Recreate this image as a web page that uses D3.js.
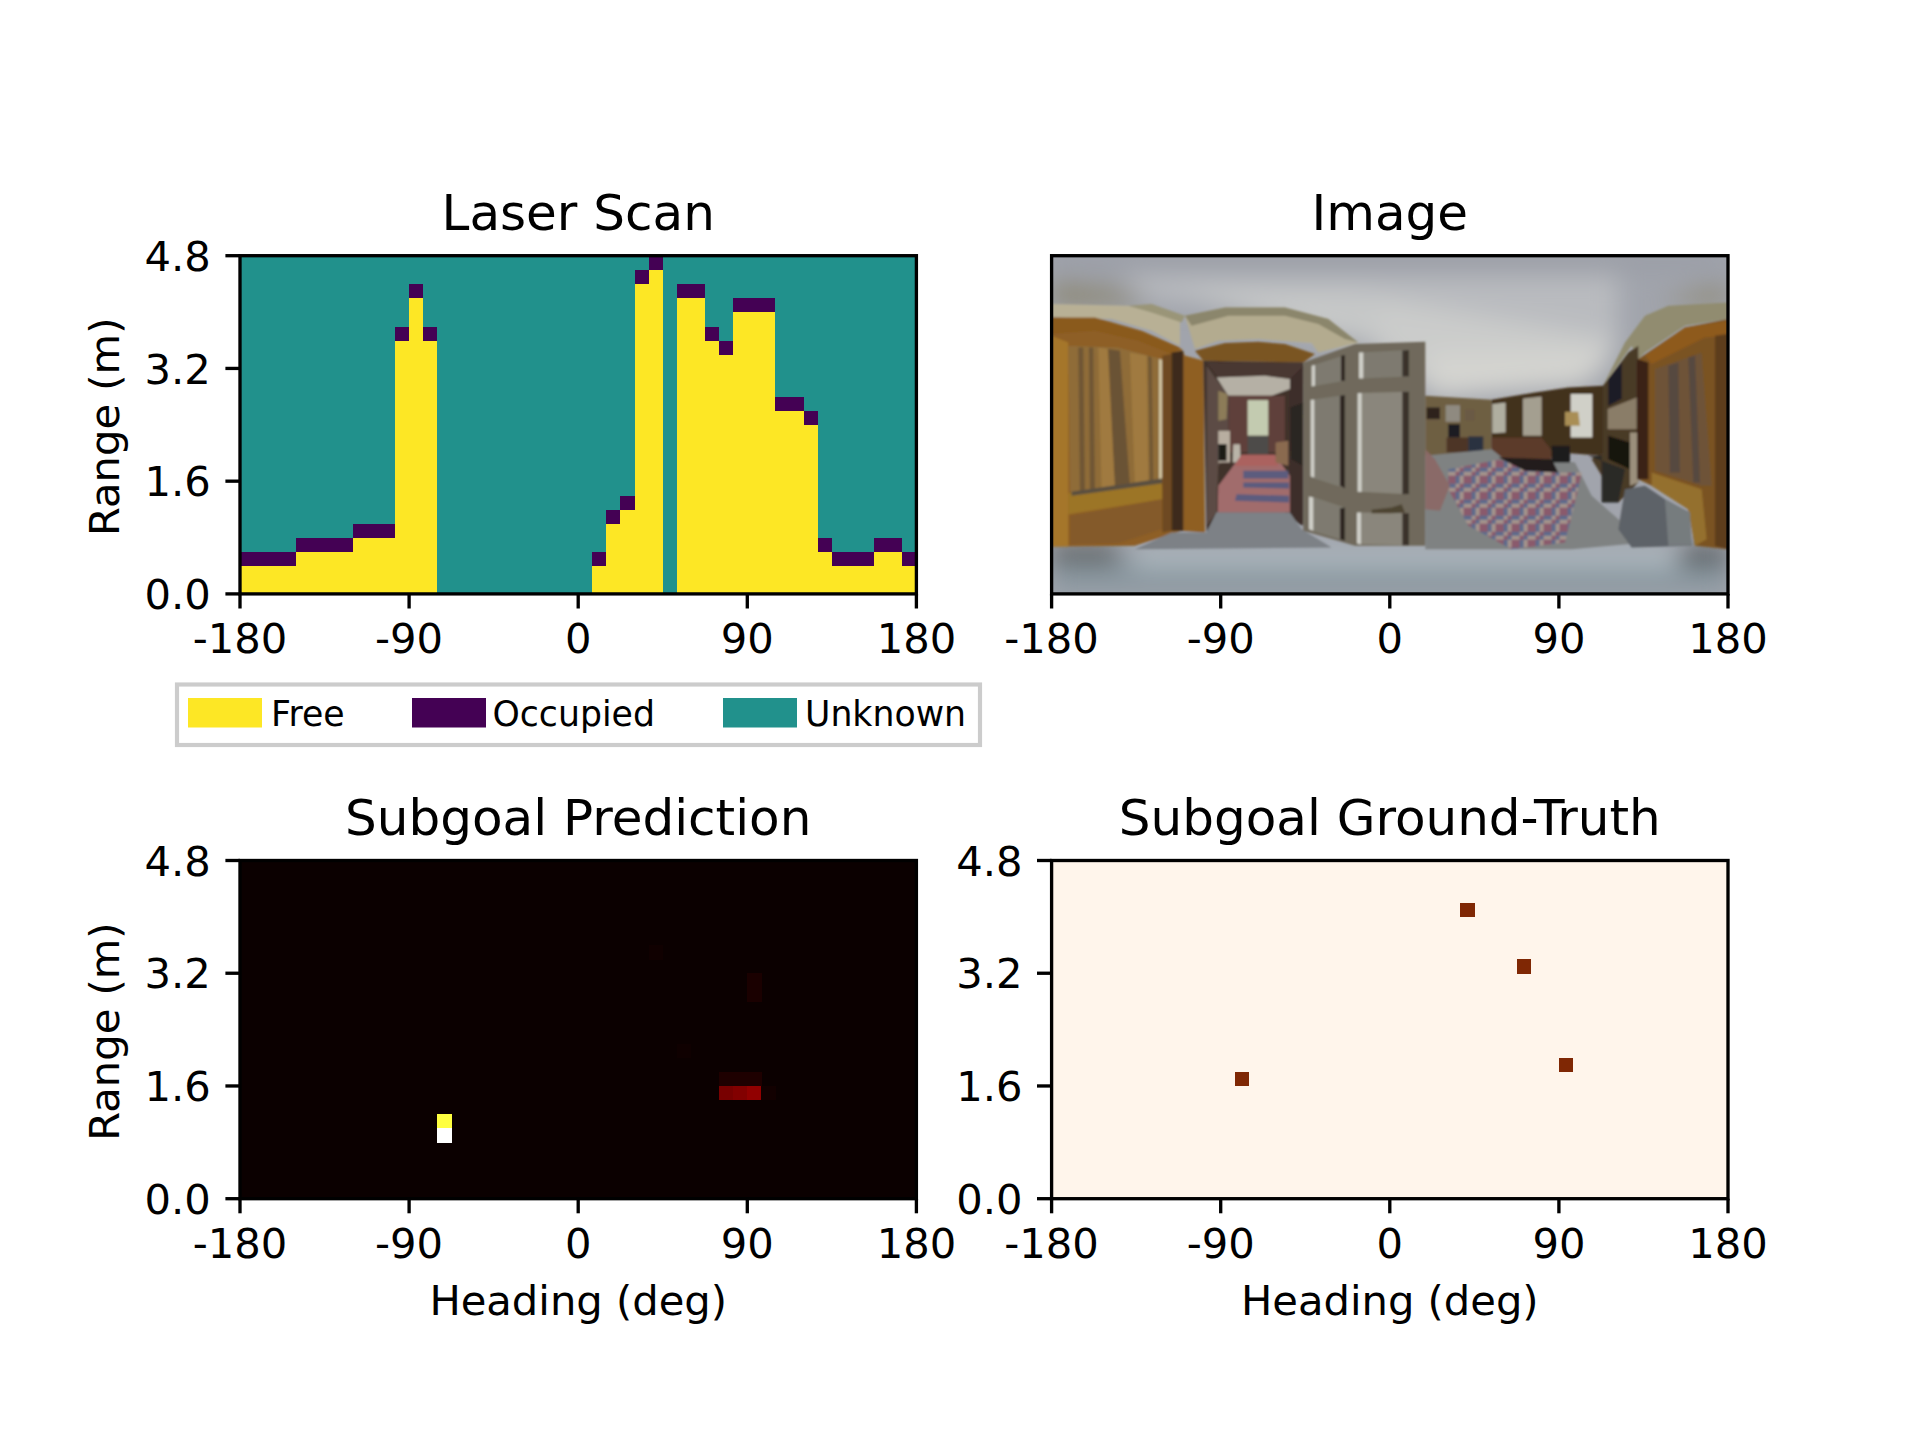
<!DOCTYPE html>
<html><head><meta charset="utf-8">
<script src="https://cdn.jsdelivr.net/npm/d3@7/dist/d3.min.js"></script>
<style>html,body{margin:0;background:#fff}svg{display:block}text{font-family:"DejaVu Sans";fill:#000}</style>
</head><body><svg id="c" width="1920" height="1440"></svg>
<script>
// ---------- data ----------
const panelTitles = ["Laser Scan", "Image", "Subgoal Prediction", "Subgoal Ground-Truth"];
const headingTicks = [-180, -90, 0, 90, 180];
const rangeTicks = [0, 1.6, 3.2, 4.8];
const headingLabel = "Heading (deg)";
const rangeLabel = "Range (m)";
const columnCount = 48, rowCount = 24;
// Occupied range-bin per heading column (null: the whole column is unknown)
const scanOccupied = [2,2,2,2,3,3,3,3,4,4,4,18,21,18,
  null,null,null,null,null,null,null,null,null,null,null,
  2,5,6,22,23,null,21,21,18,17,20,20,20,13,13,12,3,2,2,2,3,3,2];
const legendNames = ["Free", "Occupied", "Unknown"];
const legendValues = [1, 0, 0.5];
// Predicted subgoal heat: column, bin, value
const predCols = [14,14,34,35,36,34,35,36,36,36,37,29,31];
const predBins = [5,4,7,7,7,8,8,8,14,15,7,17,10];
const predVals = [0.81,1,0.163,0.178,0.2,0.028,0.028,0.028,0.022,0.022,0.01,0.008,0.006];
// Ground-truth subgoals: column, bin
const truthCols = [13,29,33,36];
const truthBins = [8,20,16,9];
// Panorama drawn as soft colour patches, in source-image coordinates (2029 x 1014)
const photoBase = "#a1a4ac";
const photoGlows = [
 ["#989ba4","0,0 2029,0 2029,40 0,40"],
 ["#b9bbbf","200,60 1700,60 1700,250 300,130"],
 ["#cbcccb","450,135 1000,130 1700,250 1650,360 1150,425 950,265"],
 ["#d4d4d0","1130,290 1650,290 1600,390 1150,425"],
 ["#c6c8c8","380,110 950,110 1000,250 920,255 830,180 520,145"],
 ["#8b8672","0,80 200,100 300,145 0,150"],
 ["#8f8a78","1820,140 1950,100 2029,90 2029,150"],
 ["#8b98a0","0,900 2029,900 2029,1014 0,1014"],
 ["#b0bcc2","250,885 1900,885 1900,930 250,930"],
 ["#484a44","0,875 200,875 200,920 0,920"],
 ["#3d4040","1880,880 2029,880 2029,925 1880,925"]
];
const photoPatches = [
 // left wall
 ["#b8b095","0,145 230,150 385,190 385,270 300,225 180,190 0,185"],
 ["#9a9578","230,150 300,145 400,180 390,200 300,170"],
 ["#b3ab8f","400,180 520,155 700,155 830,190 920,260 800,290 780,262 620,250 500,255 430,280"],
 ["#8b866c","400,180 520,155 700,155 830,190 920,260 880,250 800,205 700,180 530,180 420,210"],
 ["#8e5f25","0,185 130,190 280,230 390,280 400,300 455,315 460,830 390,825 250,870 0,872"],
 ["#8a5a1e","0,185 130,185 270,225 385,275 360,295 260,255 130,225 0,235"],
 ["#7a5522","430,285 520,262 620,258 700,265 790,295 755,320 455,315"],
 ["#a5762a","0,240 50,260 50,872 0,872"],
 ["#8f6c38","50,270 200,275 330,310 325,670 180,700 55,710"],
 ["#6f5635","80,275 95,275 100,705 85,708"],
 ["#6f5635","112,275 125,275 130,700 115,702"],
 ["#6b5234","170,280 205,285 235,690 190,698"],
 ["#a07a3f","140,275 168,280 190,700 150,705"],
 ["#a07a3f","235,290 285,300 290,680 250,690"],
 ["#6f5635","290,300 300,305 305,675 295,678"],
 ["#cfc2a0","322,310 332,312 332,668 322,670"],
 ["#9c7426","50,712 330,672 335,730 50,775"],
 ["#5a5040","60,708 330,668 332,682 60,720"],
 ["#845a2a","55,780 330,730 330,820 200,862 55,866"],
 ["#6e4a22","332,300 360,295 360,825 332,830"],
 ["#3d2c1a","360,290 395,285 395,825 360,825"],
 ["#8f5f24","400,300 455,315 458,825 400,820"],
 // hallway
 ["#3f3029","455,315 755,320 750,810 700,770 495,770 465,830"],
 ["#4a3833","465,320 750,320 750,370 640,360 500,365"],
 ["#b5b0a5","495,365 640,360 715,370 715,400 660,420 530,420"],
 ["#5e3f3a","530,420 700,420 700,590 530,590"],
 ["#5b4c45","465,330 530,420 530,600 500,630 495,770 465,810"],
 ["#c3cbb0","588,433 650,433 650,540 588,540"],
 ["#4d4c48","588,540 650,540 650,595 588,595"],
 ["#8c7c58","500,405 528,415 525,490 500,495"],
 ["#b8aea0","500,525 535,525 535,620 500,620"],
 ["#1d1a18","500,565 525,565 525,615 500,615"],
 ["#b9b4a8","545,565 565,565 568,620 543,620"],
 ["#a16c6c","570,597 670,597 715,660 715,770 498,770 500,690"],
 ["#ab625e","570,597 670,597 680,630 550,630"],
 ["#5c5c7e","575,645 710,645 710,668 575,668"],
 ["#5c5c7e","575,680 712,680 712,698 575,695"],
 ["#5c5c7e","555,715 712,720 712,740 550,735"],
 ["#7d8186","465,830 495,770 715,770 750,820 840,875 250,880 360,830"],
 ["#8a6a50","672,560 710,555 710,630 672,620"],
 ["#3e2f2a","715,370 755,330 755,810 715,770"],
 ["#2c2622","715,455 755,440 752,630 718,610"],
 // door
 ["#70695c","755,320 910,265 1121,258 1121,870 910,870 755,825"],
 ["#7e7a70","780,330 880,298 880,375 780,392"],
 ["#7e7a70","780,432 880,418 880,697 780,665"],
 ["#7e7a70","780,722 880,755 880,855 780,825"],
 ["#7e7a70","925,290 1072,283 1072,362 925,368"],
 ["#8a867b","925,412 1070,408 1070,715 925,708"],
 ["#8a867b","925,770 1070,772 1070,868 925,865"],
 ["#2e2823","868,300 880,298 880,375 868,376"],
 ["#2e2823","865,420 880,418 880,697 865,690"],
 ["#2e2823","865,757 880,755 880,855 865,850"],
 ["#3a332c","1052,284 1072,283 1072,362 1052,362"],
 ["#3a332c","1052,408 1072,408 1072,715 1052,715"],
 ["#3a332c","1052,772 1072,772 1072,868 1052,868"],
 ["#cfcfc8","780,330 790,328 790,390 780,392"],
 ["#cfcfc8","777,432 788,432 788,665 777,662"],
 ["#cfcfc8","772,722 785,725 785,825 772,820"],
 ["#cfcfc8","922,290 935,290 935,368 922,368"],
 ["#cfcfc8","918,412 930,412 930,708 918,708"],
 ["#cfcfc8","916,770 928,770 928,865 916,863"],
 ["#4e4432","960,762 1020,755 1050,745 1060,770 1020,772 960,772"],
 // room, back wall
 ["#6e5e42","1121,420 1320,432 1320,590 1121,600"],
 ["#2e241c","1125,455 1165,455 1165,490 1125,490"],
 ["#8f8a80","1182,448 1225,448 1225,498 1182,498"],
 ["#6a5a45","1240,462 1268,462 1268,494 1240,494"],
 ["#4e3626","1185,545 1250,545 1250,590 1185,590"],
 ["#1d1d20","1190,505 1225,505 1225,545 1190,545"],
 ["#2c3040","1250,542 1295,542 1295,590 1250,590"],
 ["#43301f","1320,432 1450,410 1550,395 1654,390 1654,600 1320,575"],
 ["#b0aea0","1322,445 1362,440 1362,530 1322,532"],
 ["#a49f90","1414,428 1470,422 1470,540 1414,540"],
 ["#d0d0c8","1557,415 1622,415 1622,545 1557,545"],
 ["#a98e55","1540,468 1580,468 1585,510 1540,510"],
 ["#7f8282","1121,600 1320,580 1570,620 1620,720 1780,860 1560,880 1121,880"],
 ["#5b3a2a","1320,545 1470,545 1505,590 1495,620 1370,620 1320,580"],
 ["#1f1d1c","1500,570 1555,570 1555,620 1500,620"],
 ["rug","1190,640 1340,612 1500,650 1590,650 1575,720 1540,860 1380,880 1250,810 1190,700"],
 ["#221c1a","1340,605 1500,610 1520,650 1420,645"],
 ["#8a6a68","1121,580 1150,610 1195,690 1165,765 1121,760"],
 // room, right wall
 ["#918c70","1654,390 1720,260 1780,180 1850,150 2029,140 2029,190 1900,210 1780,290 1760,310 1740,270"],
 ["#4a3a28","1654,390 1730,290 1760,270 1760,680 1700,740 1620,610 1654,590"],
 ["#1f1f25","1670,370 1710,320 1710,430 1670,450"],
 ["#8a7d68","1668,460 1755,425 1755,520 1668,520"],
 ["#17130f","1670,540 1735,560 1735,640 1670,610"],
 ["#9b8f7c","1735,530 1760,530 1760,680 1735,690"],
 ["#2c2a28","1610,600 1650,600 1650,740 1700,740 1720,640"],
 ["#7a5224","1760,310 1900,215 2029,190 2029,880 1930,870 1910,760 1800,690 1760,670"],
 ["#8e5a1e","1780,300 1900,215 2029,195 2029,240 1960,245 1800,325"],
 ["#6e5237","1810,340 1950,290 1980,690 1950,690 1810,645"],
 ["#564a40","1850,330 1880,320 1885,650 1855,650"],
 ["#564a40","1910,305 1930,300 1945,680 1925,680"],
 ["#3b2417","1756,310 1790,320 1790,670 1756,670"],
 ["#94702e","1800,650 1950,700 1965,850 1930,870 1910,760 1800,690"],
 ["#5d3d1c","1990,240 2029,235 2029,880 1990,870"],
 ["#5d6268","1720,700 1780,690 1840,730 1910,770 1920,870 1740,875 1700,820"],
 ["#767b7e","1840,730 1915,770 1920,870 1850,870"]
];
const rugColors = ["#8a5a6c","#66708f","#a4948c","#7c4f63","#5d6a8c","#937a82"];

// ---------- layout ----------
const svg = d3.select("#c");
const axW = 676.4, axH = 338.2;
const lefts = [240, 1051.6], tops = [255.7, 860.5];
const hot = d3.scaleLinear().domain([0,0.365079,0.746032,1]).range(["#0b0000","#ff0000","#ffff00","#ffffff"]);

const defs = svg.append("defs");
defs.append("filter").attr("id","soft").attr("x","-5%").attr("y","-5%").attr("width","110%").attr("height","110%")
  .append("feGaussianBlur").attr("stdDeviation",1.3);
defs.append("filter").attr("id","glow").attr("x","-30%").attr("y","-30%").attr("width","160%").attr("height","160%")
  .append("feGaussianBlur").attr("stdDeviation",12);
const rug = defs.append("pattern").attr("id","rugFill").attr("patternUnits","userSpaceOnUse").attr("width",16).attr("height",16);
d3.range(16).forEach(i => rug.append("rect").attr("x",(i%4)*4).attr("y",Math.floor(i/4)*4).attr("width",4).attr("height",4).attr("fill",rugColors[(i*i*3+i)%6]));

function panel(col, row, title, opts) {
  const x0 = lefts[col], y0 = tops[row];
  const g = svg.append("g").attr("transform",`translate(${x0},${y0})`);
  const clipId = `clip${col}${row}`;
  defs.append("clipPath").attr("id",clipId).append("rect").attr("width",axW).attr("height",axH);
  const plot = g.append("g").attr("clip-path",`url(#${clipId})`);
  const x = d3.scaleLinear().domain([-180,180]).range([0,axW]);
  const y = d3.scaleLinear().domain([0,4.8]).range([axH,0]);
  const cx = d3.scaleBand().domain(d3.range(columnCount)).range([0,axW]);
  const cy = d3.scaleBand().domain(d3.range(rowCount)).range([axH,0]);
  opts.draw(plot, cx, cy, x, y);
  const xa = g.append("g").attr("transform",`translate(0,${axH})`)
    .call(d3.axisBottom(x).tickValues(headingTicks).tickSize(14.6).tickPadding(14.6).offset(0).tickFormat(d=>String(d)));
  xa.selectAll("text").attr("font-size",41.67).attr("dy","0.729em").attr("y",29.2);
  xa.select(".domain").remove();
  xa.selectAll("line").attr("stroke-width",3.33).attr("stroke","#000");
  if (opts.yAxis) {
    const ya = g.append("g").call(d3.axisLeft(y).tickValues(rangeTicks).tickSize(14.6).tickPadding(14.6).offset(0).tickFormat(d3.format(".1f")));
    ya.selectAll("text").attr("font-size",41.67).attr("dy","0.365em");
    ya.select(".domain").remove();
    ya.selectAll("line").attr("stroke-width",3.33).attr("stroke","#000");
  }
  g.append("rect").attr("width",axW).attr("height",axH).attr("fill","none").attr("stroke","#000").attr("stroke-width",3.33);
  g.append("text").attr("x",axW/2).attr("y",-26).attr("text-anchor","middle").attr("font-size",50).text(title);
  if (opts.xLabel) g.append("text").attr("x",axW/2).attr("y",axH+116).attr("text-anchor","middle").attr("font-size",41.67).text(headingLabel);
  if (opts.yLabel) g.append("text").attr("transform",`translate(-121,${axH/2+2}) rotate(-90)`).attr("text-anchor","middle").attr("font-size",41.67).text(rangeLabel);
}
function cells(plot, list, cx, cy, color) {
  plot.selectAll(null).data(list).join("rect")
    .attr("x",d=>cx(d.c)).attr("y",d=>cy(d.k)).attr("width",cx.bandwidth()+0.4).attr("height",cy.bandwidth()+0.4)
    .attr("fill",d=>color(d.v)).attr("shape-rendering","crispEdges");
}

// Laser Scan
panel(0,0,panelTitles[0],{yAxis:true,yLabel:true,draw(plot,cx,cy){
  const list = [];
  scanOccupied.forEach((occ,c)=>d3.range(rowCount).forEach(k=>{
    list.push({c,k,v: occ===null||k>occ ? 0.5 : (k===occ ? 0 : 1)});
  }));
  cells(plot,list,cx,cy,d3.interpolateViridis);
}});

// Image
panel(1,0,panelTitles[1],{draw(plot){
  const u = d3.scaleLinear().domain([0,2029]).range([0,axW]);
  const v = d3.scaleLinear().domain([0,1014]).range([0,axH]);
  const pts = s => s.split(" ").map(p=>{const [a,b]=p.split(",");return u(+a)+","+v(+b);}).join(" ");
  plot.append("rect").attr("width",axW).attr("height",axH).attr("fill",photoBase);
  plot.append("g").attr("filter","url(#glow)").selectAll("polygon").data(photoGlows).join("polygon")
    .attr("points",d=>pts(d[1])).attr("fill",d=>d[0]);
  plot.append("g").attr("filter","url(#soft)").selectAll("polygon").data(photoPatches).join("polygon")
    .attr("points",d=>pts(d[1])).attr("fill",d=>d[0]==="rug"?"url(#rugFill)":d[0]);
}});

// Subgoal Prediction
panel(0,1,panelTitles[2],{yAxis:true,yLabel:true,xLabel:true,draw(plot,cx,cy){
  plot.append("rect").attr("width",axW).attr("height",axH).attr("fill",hot(0));
  cells(plot,predCols.map((c,i)=>({c,k:predBins[i],v:predVals[i]})),cx,cy,hot);
}});

// Subgoal Ground-Truth
panel(1,1,panelTitles[3],{yAxis:true,xLabel:true,draw(plot,cx,cy){
  plot.append("rect").attr("width",axW).attr("height",axH).attr("fill",d3.interpolateOranges(0));
  cells(plot,truthCols.map((c,i)=>({c,k:truthBins[i],v:1})),cx,cy,d3.interpolateOranges);
}});

// Legend
const legend = svg.append("g");
legend.append("rect").attr("x",177).attr("y",684.5).attr("width",803).attr("height",60.5).attr("fill","#fff").attr("stroke","#ccc").attr("stroke-width",4.17);
const legendSwatchX = d3.scaleOrdinal().domain(legendNames).range([188,412,723]);
const legendTextX = d3.scaleOrdinal().domain(legendNames).range([271,492.5,805]);
legendNames.forEach((name,i)=>{
  legend.append("rect").attr("x",legendSwatchX(name)).attr("y",698).attr("width",74).attr("height",29.5).attr("fill",d3.interpolateViridis(legendValues[i]));
  legend.append("text").attr("x",legendTextX(name)).attr("y",725.5).attr("font-size",34.7).text(name);
});
</script></body></html>
